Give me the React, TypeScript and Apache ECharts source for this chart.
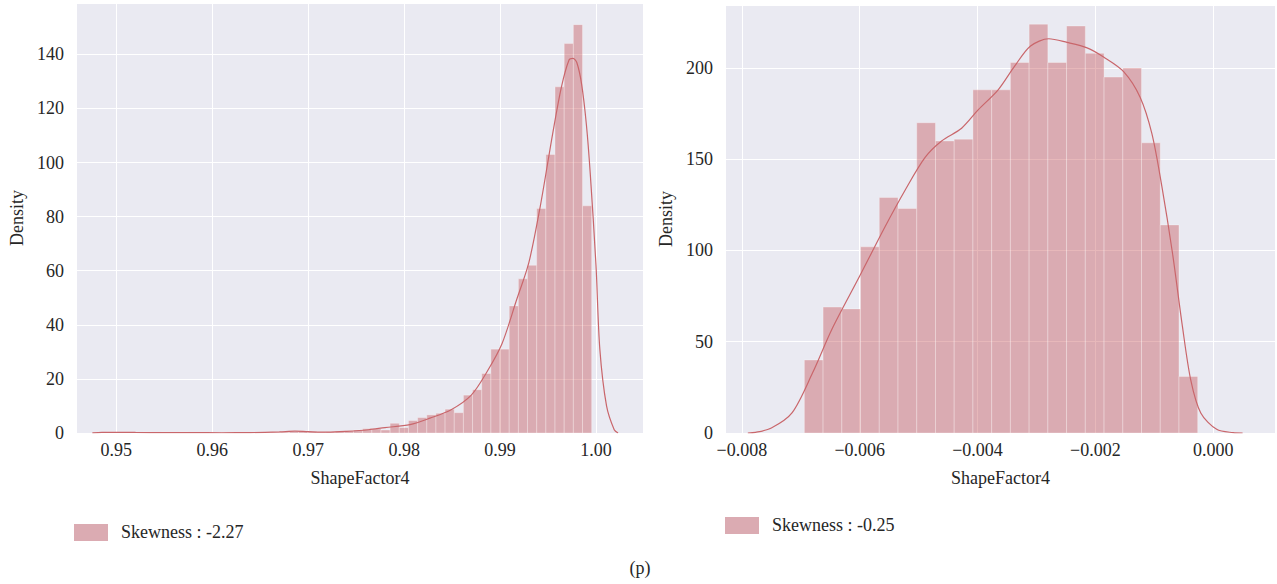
import React, { useEffect, useRef } from "react";
import * as echarts from "echarts";

const FONT = "Liberation Serif";
const BAR_FILL = "rgba(196,78,82,0.4)";
const LINE_COLOR = "#c9666b";

// Left panel (Skewness -2.27)
const leftBinStart = 0.94798;
const leftBinWidth = 0.000955;
const leftHeights = [
  0.2, 0.3, 0.1, 0, 0.2, 0.3, 0.2, 0.3, 0.2, 0.3,
  0.2, 0.1, 0, 0.1, 0.2, 0.2, 0.1, 0, 0.2, 0.3,
  0.3, 0.5, 0.7, 0.5, 0.3, 0.4, 0.6, 0.8, 1.1, 1.6,
  1.5, 1.1, 3.6, 2.0, 4.6, 5.7, 6.7, 7.3, 8.8, 7.5,
  14, 16, 22, 31, 31, 47, 57, 62, 83, 103,
  128, 144, 151, 84,
];
const leftKde: [number, number][] = [
  [0.9475, 0.05], [0.9485, 0.2], [0.95, 0.25], [0.952, 0.2], [0.955, 0.15],
  [0.958, 0.15], [0.961, 0.1], [0.964, 0.15], [0.967, 0.4], [0.9686, 0.7],
  [0.970, 0.5], [0.972, 0.3], [0.974, 0.6], [0.9763, 1.2], [0.978, 2.0],
  [0.9806, 3.1], [0.9827, 5.5], [0.9849, 8.6], [0.987, 14], [0.9887, 23],
  [0.9902, 33], [0.9917, 49], [0.993, 63], [0.9942, 84], [0.9955, 111],
  [0.9964, 128], [0.9972, 138], [0.9976, 138.5], [0.998, 137], [0.9985, 129],
  [0.999, 114], [0.9994, 96], [1.0, 62], [1.0004, 31], [1.0011, 10],
  [1.0019, 1.2], [1.0023, 0],
];
const leftTicks = [0.95, 0.96, 0.97, 0.98, 0.99, 1.0];

// Right panel (Skewness -0.25)
const rightBinStart = -0.00694;
const rightBinWidth = 0.000318;
const rightHeights = [
  40, 69, 68, 102, 129, 123, 170, 160, 161, 188,
  188, 203, 224, 203, 223, 208, 195, 200, 159, 114, 31,
];
const rightKde: [number, number][] = [
  [-0.0079, 0], [-0.00777, 0.3], [-0.0075, 2.7], [-0.00715, 11], [-0.0068, 33],
  [-0.00647, 57], [-0.006, 86], [-0.00557, 113], [-0.00523, 133], [-0.00489, 151],
  [-0.00461, 160], [-0.00427, 167], [-0.00399, 177], [-0.00365, 188], [-0.00337, 201],
  [-0.0031, 212], [-0.00279, 216], [-0.00248, 214], [-0.00214, 211], [-0.00186, 206],
  [-0.00152, 198], [-0.00124, 184], [-0.00104, 164], [-0.00087, 135], [-0.00069, 98.5],
  [-0.00052, 58], [-0.00038, 29], [-0.00021, 11], [0.00006, 2], [0.00034, 0.2], [0.0005, 0],
];
const rightTicks = [-0.008, -0.006, -0.004, -0.002, 0];

const legendLabels = ["Skewness : -2.27", "Skewness : -0.25"];
const caption = "(p)";

function binData(start: number, width: number, heights: number[]) {
  return heights.map((h, i) => [start + i * width, start + (i + 1) * width, h]);
}

function histSeries(name: string, idx: number, data: number[][]) {
  return {
    type: "custom",
    name,
    xAxisIndex: idx,
    yAxisIndex: idx,
    encode: { x: [0, 1], y: 2 },
    data,
    renderItem: (params: any, api: any) => {
      const x0 = api.value(0);
      const x1 = api.value(1);
      const h = api.value(2);
      const p0 = api.coord([x0, h]);
      const p1 = api.coord([x1, 0]);
      return {
        type: "rect",
        shape: { x: p0[0], y: p0[1], width: p1[0] - p0[0], height: p1[1] - p0[1] },
        style: { fill: BAR_FILL, stroke: "rgba(255,255,255,0.3)", lineWidth: 1 },
      };
    },
  };
}

function kdeSeries(idx: number, data: [number, number][]) {
  return {
    type: "line",
    xAxisIndex: idx,
    yAxisIndex: idx,
    data,
    smooth: 0.3,
    showSymbol: false,
    lineStyle: { color: LINE_COLOR, width: 1.2 },
    z: 5,
  };
}

const axisText = { color: "#262626", fontSize: 18, fontFamily: FONT };

function xAxisCfg(idx: number, min: number, max: number, ticks: number[], fmt: (v: number) => string) {
  return {
    type: "value",
    gridIndex: idx,
    min,
    max,
    name: "ShapeFactor4",
    nameLocation: "middle",
    nameGap: 36,
    nameTextStyle: { ...axisText },
    axisLine: { show: false },
    axisTick: { show: false, customValues: ticks },
    axisLabel: { ...axisText, margin: 8, customValues: ticks, formatter: fmt },
    splitLine: { show: true, lineStyle: { color: "#ffffff", width: 1 } },
  };
}

function yAxisCfg(idx: number, max: number, interval: number) {
  return {
    type: "value",
    gridIndex: idx,
    min: 0,
    max,
    interval,
    name: "Density",
    nameLocation: "middle",
    nameGap: 51,
    nameTextStyle: { ...axisText },
    axisLine: { show: false },
    axisTick: { show: false },
    axisLabel: { ...axisText, margin: 13, showMaxLabel: false },
    splitLine: { show: true, lineStyle: { color: "#ffffff", width: 1 } },
  };
}

export default function App() {
  const ref = useRef<HTMLDivElement>(null);
  useEffect(() => {
    document.body.style.margin = "0";
    if (!ref.current) return;
    const chart = echarts.init(ref.current, undefined, { renderer: "svg" });
    chart.setOption({
      animation: false,
      backgroundColor: "#ffffff",
      textStyle: { fontFamily: FONT },
      grid: [
        { left: 77, top: 3, width: 566, height: 430, show: true, backgroundColor: "#eaeaf2", borderWidth: 0 },
        { left: 726, top: 5, width: 549, height: 428, show: true, backgroundColor: "#eaeaf2", borderWidth: 0 },
      ],
      xAxis: [
        xAxisCfg(0, 0.9459, 1.0049, leftTicks, (v: number) => v.toFixed(2)),
        xAxisCfg(1, -0.00827, 0.00105, rightTicks, (v: number) =>
          Math.abs(v) < 1e-12 ? "0.000" : (v < 0 ? "\u2212" : "") + Math.abs(v).toFixed(3)
        ),
      ],
      yAxis: [yAxisCfg(0, 159, 20), yAxisCfg(1, 234.5, 50)],
      series: [
        histSeries(legendLabels[0], 0, binData(leftBinStart, leftBinWidth, leftHeights)),
        kdeSeries(0, leftKde),
        histSeries(legendLabels[1], 1, binData(rightBinStart, rightBinWidth, rightHeights)),
        kdeSeries(1, rightKde),
      ],
      graphic: [
        { type: "rect", left: 74, top: 524, shape: { width: 34, height: 17 }, style: { fill: "#dbabb2" } },
        {
          type: "text", x: 121, y: 532,
          style: { text: legendLabels[0], fill: "#262626", fontSize: 18, fontFamily: FONT, verticalAlign: "middle" },
        },
        { type: "rect", left: 725, top: 517, shape: { width: 34, height: 17 }, style: { fill: "#dbabb2" } },
        {
          type: "text", x: 772, y: 525,
          style: { text: legendLabels[1], fill: "#262626", fontSize: 18, fontFamily: FONT, verticalAlign: "middle" },
        },
        {
          type: "text", x: 640, y: 568,
          style: { text: caption, fill: "#262626", fontSize: 18, fontFamily: FONT, align: "center", verticalAlign: "middle" },
        },
      ],
    });
    return () => chart.dispose();
  }, []);
  return <div ref={ref} style={{ width: 1277, height: 584 }} />;
}
